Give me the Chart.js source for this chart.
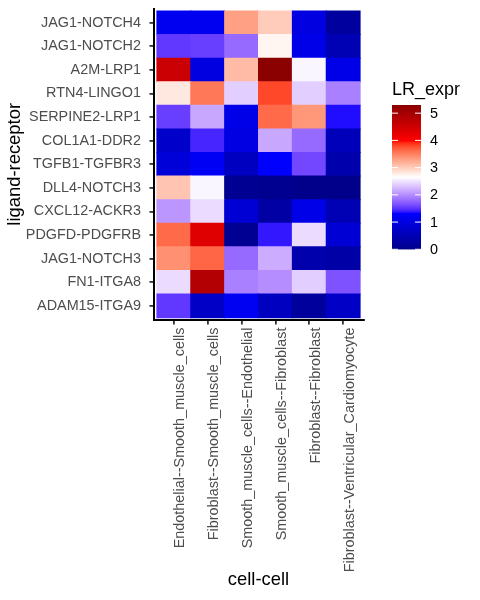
<!DOCTYPE html>
<html>
<head>
<meta charset="utf-8">
<script src="https://cdn.jsdelivr.net/npm/chart.js@4/dist/chart.umd.min.js"></script>
<style>
  html, body { margin: 0; padding: 0; background: #ffffff; }
  #wrap { width: 480px; height: 600px; position: relative; }
</style>
</head>
<body>
<div id="wrap"><canvas id="c" width="480" height="600"></canvas></div>
<script>
// ---- data (rows listed top to bottom) ----
const rowLabels = ['JAG1-NOTCH4','JAG1-NOTCH2','A2M-LRP1','RTN4-LINGO1','SERPINE2-LRP1','COL1A1-DDR2','TGFB1-TGFBR3','DLL4-NOTCH3','CXCL12-ACKR3','PDGFD-PDGFRB','JAG1-NOTCH3','FN1-ITGA8','ADAM15-ITGA9'];
const colLabels = ['Endothelial--Smooth_muscle_cells','Fibroblast--Smooth_muscle_cells','Smooth_muscle_cells--Endothelial','Smooth_muscle_cells--Fibroblast','Fibroblast--Fibroblast','Fibroblast--Ventricular_Cardiomyocyte'];
const endoToSmc   = [1.17, 1.52, 4.56, 2.81, 1.55, 0.75, 0.90, 3.05, 2.05, 3.63, 3.40, 2.45, 1.52];
const fibroToSmc  = [1.17, 1.55, 1.00, 3.55, 2.15, 1.43, 1.20, 2.60, 2.45, 4.33, 3.65, 4.83, 0.70];
const smcToEndo   = [3.30, 1.79, 3.12, 2.38, 1.07, 1.02, 0.62, 0.10, 0.85, 0.10, 1.79, 1.92, 1.18];
const smcToFibro  = [3.00, 2.72, 5.30, 3.80, 3.63, 2.15, 1.32, 0.06, 0.30, 1.38, 2.18, 2.00, 0.62];
const fibroToFibro= [1.00, 1.07, 2.60, 2.38, 3.36, 1.79, 1.60, 0.00, 1.07, 2.45, 0.40, 2.38, 0.20];
const fibroToCm   = [0.24, 0.50, 1.07, 1.92, 1.35, 0.56, 0.40, 0.00, 0.50, 0.85, 0.33, 1.66, 0.70];
const legendTicks = [0, 1, 2, 3, 4, 5];
const legendTitle = 'LR_expr';

const columns = [endoToSmc, fibroToSmc, smcToEndo, smcToFibro, fibroToFibro, fibroToCm];

// ---- colour scale (Lab interpolation like ggplot2 gradientn) ----
const paletteHex = ['#00008B','#0000FF','#FFFFFF','#FF0000','#8B0000'];
const allVals = columns.flat();
const vMin = Math.min(...allVals);
const vMax = Math.max(...allVals);

function toLin(c){ c/=255; return c<=0.04045 ? c/12.92 : Math.pow((c+0.055)/1.055,2.4); }
function toSrgb(c){ c = c<=0.0031308 ? 12.92*c : 1.055*Math.pow(c,1/2.4)-0.055; return Math.round(Math.max(0,Math.min(1,c))*255); }
const Xn=0.95047, Yn=1.0, Zn=1.08883, eps=216/24389, kap=24389/27;
function fL(t){ return t>eps ? Math.cbrt(t) : (kap*t+16)/116; }
function fInv(t){ const t3=t*t*t; return t3>eps ? t3 : (116*t-16)/kap; }
function hexToLab(h){
  const r=toLin(parseInt(h.slice(1,3),16)), g=toLin(parseInt(h.slice(3,5),16)), b=toLin(parseInt(h.slice(5,7),16));
  const X=(0.4124564*r+0.3575761*g+0.1804375*b)/Xn;
  const Y=(0.2126729*r+0.7151522*g+0.0721750*b)/Yn;
  const Z=(0.0193339*r+0.1191920*g+0.9503041*b)/Zn;
  const fx=fL(X), fy=fL(Y), fz=fL(Z);
  return [116*fy-16, 500*(fx-fy), 200*(fy-fz)];
}
function labToRgb(L,a,b){
  const fy=(L+16)/116, fx=fy+a/500, fz=fy-b/200;
  const X=fInv(fx)*Xn, Y=fInv(fy)*Yn, Z=fInv(fz)*Zn;
  const r= 3.2404542*X-1.5371385*Y-0.4985314*Z;
  const g=-0.9692660*X+1.8760108*Y+0.0415560*Z;
  const bb=0.0556434*X-0.2040259*Y+1.0572252*Z;
  return 'rgb('+toSrgb(r)+','+toSrgb(g)+','+toSrgb(bb)+')';
}
const paletteLab = paletteHex.map(hexToLab);
function colourFor(v){
  let t = (v - vMin) / (vMax - vMin);
  t = Math.max(0, Math.min(1, t));
  const seg = t * (paletteLab.length - 1);
  const i = Math.min(paletteLab.length - 2, Math.floor(seg));
  const f = seg - i;
  const A = paletteLab[i], B = paletteLab[i+1];
  return labToRgb(A[0]+(B[0]-A[0])*f, A[1]+(B[1]-A[1])*f, A[2]+(B[2]-A[2])*f);
}

// ---- datasets: one per row, stacked from the bottom row upwards ----
const nRows = rowLabels.length;
const datasets = [];
for (let k = nRows - 1; k >= 0; k--) {
  datasets.push({
    label: rowLabels[k],
    data: colLabels.map((c, j) => ({ x: j, y: 1 })),
    backgroundColor: colLabels.map((c, j) => colourFor(columns[j][k])),
    borderWidth: 0,
    inflateAmount: 0.5,
    barPercentage: 1,
    categoryPercentage: 1
  });
}

const tickFont = { family: 'Liberation Sans', size: 14.4 };
const titleFont = { family: 'Liberation Sans', size: 18.4 };

const colorbarPlugin = {
  id: 'colorbar',
  afterDraw(chart) {
    const ctx = chart.ctx;
    const x0 = 392, w = 29, yTop = 105, yBot = 249.3;
    const pxPerUnit = (yBot - yTop) / (vMax - vMin);
    ctx.save();
    for (let y = yTop; y < yBot; y += 1) {
      const v = vMax - (y + 0.5 - yTop) / pxPerUnit;
      ctx.fillStyle = colourFor(v);
      ctx.fillRect(x0, y, w, Math.min(1.2, yBot - y));
    }
    ctx.strokeStyle = '#ffffff';
    ctx.lineWidth = 1;
    ctx.fillStyle = '#000000';
    ctx.font = '14.4px "Liberation Sans"';
    ctx.textAlign = 'left';
    ctx.textBaseline = 'middle';
    legendTicks.forEach(v => {
      const y = yBot - (v - vMin) * pxPerUnit;
      ctx.beginPath();
      ctx.moveTo(x0, y); ctx.lineTo(x0 + 6, y);
      ctx.moveTo(x0 + w - 6, y); ctx.lineTo(x0 + w, y);
      ctx.stroke();
      ctx.fillText(String(v), 430, y + 0.5);
    });
    ctx.font = '18px "Liberation Sans"';
    ctx.fillText(legendTitle, 392, 90);
    ctx.restore();
  }
};

new Chart(document.getElementById('c'), {
  type: 'bar',
  data: { datasets },
  options: {
    responsive: false,
    animation: false,
    events: [],
    layout: { padding: { left: 0, top: 8.6, right: 116.5, bottom: 0 } },
    plugins: { legend: { display: false }, tooltip: { enabled: false } },
    scales: {
      x: {
        type: 'linear',
        stacked: true,
        offset: false,
        min: -0.6,
        max: 5.6,
        afterBuildTicks(scale) { scale.ticks = colLabels.map((c, j) => ({ value: j })); },
        afterFit(scale) { scale.height = 280; scale.paddingLeft = 0; scale.paddingRight = 0; scale.paddingTop = 0; scale.paddingBottom = 0; },
        ticks: {
          autoSkip: false,
          maxRotation: 90,
          minRotation: 90,
          padding: 3,
          labelOffset: 6.5,
          color: '#4D4D4D',
          font: tickFont,
          callback: (v) => colLabels[v]
        },
        grid: { offset: false, drawOnChartArea: false, drawTicks: true, tickLength: 4.5, color: '#333333', lineWidth: 1.8 },
        border: { display: true, color: '#000000', width: 2 },
        title: { display: true, text: 'cell-cell', color: '#000000', font: titleFont, padding: { top: 4, bottom: 9 } }
      },
      y: {
        type: 'linear',
        stacked: true,
        min: -0.1,
        max: 13.1,
        afterBuildTicks(scale) { scale.ticks = rowLabels.map((r, i) => ({ value: i + 0.5 })); },
        afterFit(scale) { scale.width = 153.5; scale.paddingLeft = 0; scale.paddingRight = 0; scale.paddingTop = 0; scale.paddingBottom = 0; },
        ticks: {
          autoSkip: false,
          padding: 8.5,
          color: '#4D4D4D',
          font: tickFont,
          callback: (v) => rowLabels[nRows - 1 - Math.round(v - 0.5)]
        },
        grid: { drawOnChartArea: false, drawTicks: true, tickLength: 4, color: '#333333', lineWidth: 1.8 },
        border: { display: true, color: '#000000', width: 2 },
        title: { display: true, text: 'ligand-receptor', color: '#000000', font: titleFont, padding: { top: 4, bottom: 4 } }
      }
    }
  },
  plugins: [colorbarPlugin]
});
</script>
</body>
</html>
